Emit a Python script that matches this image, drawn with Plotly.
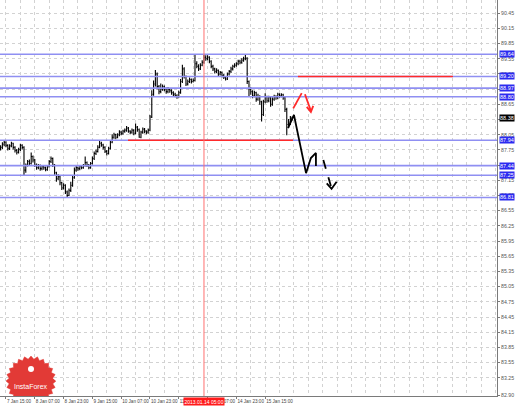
import math
import plotly.graph_objects as go

# ---------------- data ----------------
close = [87.80, 87.86, 87.90, 87.84, 87.78, 87.83, 87.88, 87.80, 87.74, 87.70, 87.76, 87.84,
         87.80, 87.35, 87.45, 87.52, 87.48, 87.62, 87.55, 87.45, 87.40, 87.44, 87.38, 87.42,
         87.40, 87.36, 87.42, 87.52, 87.58, 87.45, 87.30, 87.18, 87.22, 87.10, 87.00, 87.05,
         86.92, 86.85, 86.95, 87.05, 87.20, 87.35, 87.40, 87.38, 87.42, 87.40, 87.44, 87.50,
         87.45, 87.40, 87.48, 87.58, 87.68, 87.72, 87.80, 87.88, 87.85, 87.80, 87.72, 87.68,
         87.78, 87.90, 88.00, 88.05, 88.00, 88.05, 88.10, 88.08, 88.12, 88.14, 88.18, 88.12,
         88.10, 88.14, 88.08, 88.20, 88.15, 88.00, 88.10, 88.16, 88.12, 88.10, 88.14, 88.40,
         88.85, 89.05, 89.25, 89.00, 88.90, 88.95, 89.00, 88.95, 88.90, 88.95, 88.92, 88.88,
         88.85, 88.82, 88.80, 88.88, 89.10, 89.35, 89.20, 89.05, 89.10, 89.14, 89.10, 89.12,
         89.45, 89.40, 89.35, 89.42, 89.48, 89.58, 89.55, 89.58, 89.50, 89.40, 89.35, 89.30,
         89.32, 89.25, 89.28, 89.22, 89.18, 89.15, 89.25, 89.30, 89.35, 89.40, 89.42, 89.45,
         89.50, 89.48, 89.52, 89.55, 89.56, 89.10, 88.95, 88.90, 88.82, 88.88, 88.75, 88.80,
         88.70, 88.45, 88.70, 88.80, 88.72, 88.78, 88.65, 88.75, 88.80, 88.78, 88.85, 88.82,
         88.84, 88.78, 88.55, 88.25, 88.30, 88.38, 88.38]
high = [87.84, 87.90, 87.93, 87.92, 87.86, 87.86, 87.91, 87.89, 87.82, 87.77, 87.79, 87.87,
        87.86, 87.82, 87.48, 87.55, 87.56, 87.70, 87.64, 87.57, 87.48, 87.47, 87.46, 87.45,
        87.44, 87.42, 87.45, 87.55, 87.62, 87.60, 87.47, 87.32, 87.27, 87.24, 87.12, 87.09,
        87.07, 86.95, 86.99, 87.12, 87.24, 87.40, 87.43, 87.42, 87.45, 87.44, 87.47, 87.62,
        87.52, 87.47, 87.51, 87.62, 87.72, 87.76, 87.84, 87.94, 87.91, 87.87, 87.82, 87.75,
        87.81, 87.93, 88.06, 88.09, 88.07, 88.08, 88.14, 88.13, 88.15, 88.17, 88.22, 88.20,
        88.14, 88.17, 88.16, 88.27, 88.22, 88.17, 88.13, 88.19, 88.18, 88.14, 88.17, 88.44,
        88.93, 89.12, 89.33, 89.28, 89.03, 89.06, 89.04, 89.02, 88.98, 88.99, 88.97, 88.95,
        88.91, 88.88, 88.85, 88.92, 89.15, 89.43, 89.38, 89.22, 89.14, 89.18, 89.16, 89.16,
        89.64, 89.50, 89.44, 89.46, 89.52, 89.63, 89.62, 89.62, 89.60, 89.52, 89.43, 89.37,
        89.36, 89.34, 89.31, 89.30, 89.25, 89.21, 89.28, 89.33, 89.39, 89.43, 89.46, 89.48,
        89.53, 89.53, 89.56, 89.59, 89.63, 89.58, 89.12, 88.99, 88.93, 88.92, 88.90, 88.86,
        88.83, 88.72, 88.74, 88.87, 88.82, 88.82, 88.80, 88.79, 88.84, 88.83, 88.88, 88.87,
        88.87, 88.86, 88.80, 88.58, 88.36, 88.42, 88.41]
low = [87.74, 87.77, 87.82, 87.80, 87.74, 87.75, 87.80, 87.76, 87.70, 87.66, 87.68, 87.73,
       87.76, 87.25, 87.30, 87.42, 87.44, 87.46, 87.50, 87.41, 87.36, 87.37, 87.34, 87.35,
       87.36, 87.33, 87.34, 87.40, 87.49, 87.41, 87.26, 87.12, 87.15, 87.05, 86.96, 86.97,
       86.88, 86.82, 86.84, 86.92, 87.02, 87.18, 87.32, 87.34, 87.35, 87.37, 87.38, 87.42,
       87.41, 87.37, 87.38, 87.46, 87.55, 87.65, 87.70, 87.78, 87.81, 87.76, 87.69, 87.64,
       87.66, 87.76, 87.88, 87.97, 87.96, 87.98, 88.02, 88.04, 88.05, 88.09, 88.11, 88.09,
       88.06, 88.07, 88.04, 88.06, 88.11, 87.99, 87.98, 88.07, 88.08, 88.06, 88.07, 88.12,
       88.38, 88.82, 89.00, 88.95, 88.85, 88.87, 88.92, 88.91, 88.86, 88.87, 88.88, 88.84,
       88.81, 88.79, 88.76, 88.78, 88.86, 89.07, 89.16, 89.01, 89.02, 89.07, 89.06, 89.08,
       89.10, 89.36, 89.31, 89.33, 89.40, 89.45, 89.51, 89.52, 89.46, 89.36, 89.31, 89.26,
       89.27, 89.21, 89.22, 89.18, 89.15, 89.12, 89.13, 89.22, 89.27, 89.32, 89.37, 89.39,
       89.42, 89.44, 89.45, 89.49, 89.52, 89.05, 88.80, 88.84, 88.77, 88.79, 88.70, 88.72,
       88.64, 88.31, 88.42, 88.67, 88.68, 88.69, 88.60, 88.62, 88.72, 88.74, 88.75, 88.78,
       88.79, 88.74, 88.50, 88.04, 88.18, 88.24, 88.33]
first_open = 87.78
bars = list(range(len(close)))
opens = [first_open] + close[:-1]

# time axis labels (bar index of each label)
time_tick_bars = [3, 19, 35, 51, 67, 83, 99, 115, 131, 147]
time_tick_text = ["7 Jan 15:00", "8 Jan 07:00", "8 Jan 23:00", "9 Jan 15:00", "10 Jan 07:00",
                  "10 Jan 23:00", "11 Jan 15:00", "14 Jan 07:00", "14 Jan 23:00", "15 Jan 15:00"]
price_ticks = [90.45, 90.15, 89.85, 89.55, 89.25, 88.95, 88.65, 88.35, 88.05, 87.75, 87.45,
               87.15, 86.85, 86.55, 86.25, 85.95, 85.65, 85.35, 85.05, 84.75, 84.45, 84.15,
               83.85, 83.55, 83.25, 82.90]

# horizontal support/resistance levels
blue_levels = [89.64, 89.20, 88.97, 88.80, 87.94, 87.44, 87.25, 86.81]
current_price = 88.38
red_seg1 = dict(x=[70.8, 162.5], y=[87.94, 87.94])
red_seg2 = dict(x=[165.2, 251.3], y=[89.20, 89.20])
vline_bar = 113
vline_text = "2013.01.14 05:00"

# forecast paths (bar index, price)
black_path_x = [159.7, 163.0, 169.7, 172.4, 175.2, 175.2]
black_path_y = [88.18, 88.44, 87.29, 87.59, 87.69, 87.43]
black_dash_x = [179.3, 183.9]
black_dash_y = [87.55, 86.99]
black_head_x = [181.2, 183.9, 186.7]
black_head_y = [87.09, 86.98, 87.12]
red_up_x = [162.6, 167.3]
red_up_y = [88.57, 88.87]
red_down_x = [169.1, 172.4]
red_down_y = [88.85, 88.52]
red_head_x = [170.1, 172.4, 173.7]
red_head_y = [88.60, 88.50, 88.62]

# ---------------- layout geometry ----------------
X0, X1 = -0.33, 275.8
Y0, Y1 = 82.89, 90.71
PLOT_W, PLOT_H = 497, 396
FONT = "Liberation Sans, Arial"


def px2data(px, py):
    return X0 + px / PLOT_W * (X1 - X0), Y1 - py / PLOT_H * (Y1 - Y0)


fig = go.Figure()

# levels
for lv in blue_levels:
    fig.add_trace(go.Scatter(x=[X0, X1], y=[lv, lv], mode="lines",
                             line=dict(color="#8f8ff2", width=1.6), hoverinfo="skip", showlegend=False))

fig.add_trace(go.Scatter(x=red_seg1["x"], y=red_seg1["y"], mode="lines",
                         line=dict(color="#ff2a2a", width=1.6), showlegend=False))
fig.add_trace(go.Scatter(x=red_seg2["x"], y=red_seg2["y"], mode="lines",
                         line=dict(color="#ff2a2a", width=1.6), showlegend=False))

# vertical red line
fig.add_trace(go.Scatter(x=[vline_bar, vline_bar], y=[Y0, Y1], mode="lines",
                         line=dict(color="#ff7070", width=1), showlegend=False))

# price bars
fig.add_trace(go.Ohlc(x=bars, open=opens, high=high, low=low, close=close,
                      increasing=dict(line=dict(color="#000000", width=1.1)),
                      decreasing=dict(line=dict(color="#000000", width=1.1)),
                      tickwidth=0.45, showlegend=False))

# forecasts
fig.add_trace(go.Scatter(x=black_path_x, y=black_path_y, mode="lines",
                         line=dict(color="#000000", width=1.8), showlegend=False))
fig.add_trace(go.Scatter(x=black_dash_x, y=black_dash_y, mode="lines",
                         line=dict(color="#000000", width=1.8, dash="dash"), showlegend=False))
fig.add_trace(go.Scatter(x=black_head_x, y=black_head_y, mode="lines",
                         line=dict(color="#000000", width=1.8), showlegend=False))
for xs, ys in [(red_up_x, red_up_y), (red_down_x, red_down_y), (red_head_x, red_head_y)]:
    fig.add_trace(go.Scatter(x=xs, y=ys, mode="lines",
                             line=dict(color="#ff2a2a", width=1.8), showlegend=False))

# InstaForex badge (clipped by plot area)
cx, cy, R = 31, 381, 25
sx, sy = [], []
for k in range(48):
    r = R if k % 2 == 0 else R * 0.88
    a = math.pi * 2 * k / 48
    dx, dy = px2data(cx + r * math.cos(a), cy + r * math.sin(a))
    sx.append(dx)
    sy.append(dy)
fig.add_trace(go.Scatter(x=sx, y=sy, mode="lines", fill="toself", fillcolor="#e23a36",
                         line=dict(color="#e23a36", width=0.5), hoverinfo="skip", showlegend=False))
ix, iy = px2data(31, 369)
fig.add_trace(go.Scatter(x=[ix], y=[iy], mode="markers",
                         marker=dict(color="white", size=6, symbol="circle"), showlegend=False))
tx, ty = px2data(31, 386)
fig.add_annotation(x=tx, y=ty, text="InstaForex", showarrow=False,
                   font=dict(family=FONT, size=7, color="white"))

# level labels on price axis
for lv in blue_levels:
    fig.add_annotation(x=1, xref="paper", y=lv, yref="y", text=f"{lv:.2f}", showarrow=False,
                       xanchor="left", xshift=2, bgcolor="#2b2bf0", borderpad=0,
                       font=dict(family=FONT, size=5.5, color="white"))
fig.add_annotation(x=1, xref="paper", y=current_price, yref="y", text=f"{current_price:.2f}",
                   showarrow=False, xanchor="left", xshift=2, bgcolor="#000000", borderpad=0,
                   font=dict(family=FONT, size=5.5, color="white"))
fig.add_annotation(x=vline_bar, xref="x", y=0, yref="paper", yanchor="top", yshift=-1,
                   text=vline_text, showarrow=False, bgcolor="#ff1a1a", borderpad=0.5,
                   font=dict(family=FONT, size=5, color="white"))

fig.update_layout(
    width=518, height=406,
    margin=dict(l=0, r=21, t=0, b=10, pad=0),
    paper_bgcolor="white", plot_bgcolor="white",
    showlegend=False,
    xaxis=dict(range=[X0, X1], tickvals=time_tick_bars, ticktext=time_tick_text,
               ticklabelposition="outside right", tickangle=0, automargin=False,
               showgrid=True, gridcolor="#d2d2d2", griddash="dot", gridwidth=1,
               minor=dict(tick0=3, dtick=8, showgrid=True, gridcolor="#d2d2d2", griddash="dot"),
               showline=True, linecolor="#7a7a7a", linewidth=1,
               ticks="outside", ticklen=2, tickcolor="#7a7a7a",
               tickfont=dict(family=FONT, size=4.6, color="#444444"),
               rangeslider=dict(visible=False), zeroline=False, fixedrange=True),
    yaxis=dict(range=[Y0, Y1], side="right", tickvals=price_ticks, tickangle=0, automargin=False,
               ticktext=[f"{v:.2f}" for v in price_ticks],
               showgrid=True, gridcolor="#d2d2d2", griddash="dot",
               showline=True, linecolor="#7a7a7a", linewidth=1,
               ticks="outside", ticklen=2, tickcolor="#7a7a7a",
               tickfont=dict(family=FONT, size=5.2, color="#555555"),
               zeroline=False, fixedrange=True),
)

fig.write_html("out.html", config={"displayModeBar": False},
               post_script="document.body.style.margin='0';document.body.style.overflow='hidden';")
